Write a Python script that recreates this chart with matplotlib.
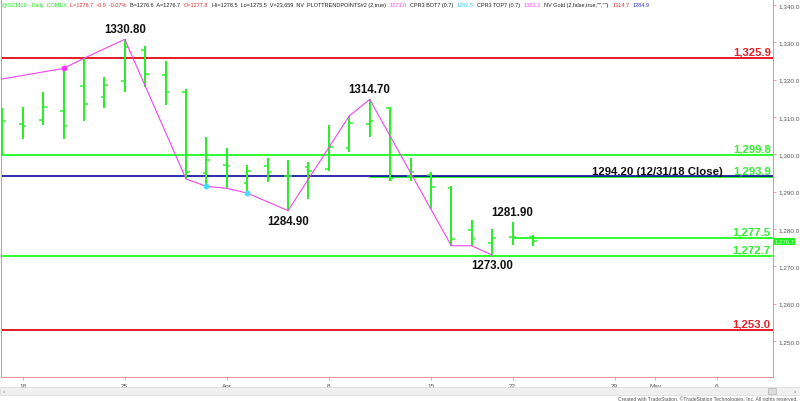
#!/usr/bin/env python3
"""Daily gold futures (GCM19) bar chart with trend points and key levels."""
import matplotlib
matplotlib.use("Agg")
import matplotlib.pyplot as plt
from matplotlib.patches import Rectangle

plt.rcParams["font.family"] = ["Liberation Sans", "DejaVu Sans"]

# trading-day index: Mar 18 = 0 ... (Good Friday Apr 19 skipped)
day_idx = list(range(-1, 26))
opens = [1301.9, 1308.1, 1309.3, 1311.7, 1318.4, 1315.3, 1319.6, 1327.9, 1321.3,
         1316.8, 1295.0, 1297.2, 1292.3, 1296.8, 1294.3, 1296.7, 1296.1, 1301.6,
         1308.1, 1312.3, 1294.3, 1294.5, 1290.9, 1279.7, 1276.2, 1277.8, 1277.8]
highs = [1312.3, 1312.6, 1316.8, 1323.0, 1325.7, 1320.6, 1330.8, 1329.1, 1325.1,
         1317.5, 1304.6, 1301.7, 1297.0, 1298.9, 1298.6, 1297.9, 1307.9, 1310.3,
         1314.7, 1312.6, 1299.0, 1295.2, 1291.6, 1282.4, 1280.0, 1281.9, 1278.5]
lows = [1299.6, 1304.1, 1307.9, 1304.1, 1309.0, 1312.3, 1316.6, 1318.0, 1313.2,
        1293.4, 1291.4, 1290.9, 1289.6, 1292.7, 1284.9, 1288.0, 1295.6, 1300.5,
        1304.6, 1292.8, 1292.9, 1285.4, 1275.5, 1275.5, 1273.0, 1275.7, 1275.5]
closes = [1308.8, 1307.5, 1312.6, 1307.7, 1313.5, 1318.6, 1328.8, 1321.5, 1316.8,
          1295.2, 1298.5, 1296.9, 1295.5, 1295.3, 1294.3, 1295.6, 1301.9, 1308.3,
          1308.8, 1293.6, 1295.2, 1291.3, 1277.3, 1277.3, 1277.6, 1277.9, 1276.7]

# zigzag trend points (day index, price)
zig_x = [-1.3, 2, 3, 5, 8, 9, 10, 11, 13, 16, 17, 21, 22, 23]
zig_y = [1319.9, 1323.0, 1325.7, 1330.8, 1293.4, 1291.4, 1290.9, 1289.6, 1284.9,
         1310.3, 1314.7, 1275.5, 1275.5, 1273.0]

# pivot labels (day index, price, text, above?)
pivot_x = [5, 17, 13, 23, 24]
pivot_y = [1330.8, 1314.7, 1284.9, 1273.0, 1281.9]
pivot_txt = ["1330.80", "1314.70", "1284.90", "1273.00", "1281.90"]
pivot_up = [True, True, False, False, True]

# horizontal levels: price, colour, start index (None = full width), label
level_y = [1325.9, 1299.8, 1293.9, 1277.5, 1272.7, 1253.0]
level_col = ["#e4202a", "#33ff33", "#33ff33", "#33ff33", "#33ff33", "#e4202a"]
level_start = [None, None, 17, 24, None, None]
level_lbl = ["1,325.9", "1,299.8", "1,293.9", "1,277.5", "1,272.7", "1,253.0"]
close_1231 = 1294.2

xtick_idx = [0, 5, 10, 15, 20, 24, 29, 31, 34]
xtick_lbl = ["18", "25", "Apr", "8", "15", "22", "29", "May", "6"]
ytick_vals = list(range(1250, 1341, 10))

header = [
    ("@GCM19 - Daily  COMEX", "#22dd22"),
    ("L=1276.7  -0.9  -0.07%", "#e03030"),
    ("B=1276.6  A=1276.7", "#222222"),
    ("O=1277.8", "#e03030"),
    ("Hi=1278.5  Lo=1275.5  V=23,659  NV  PLOTTRENDPOINTS#2 (2,true)", "#222222"),
    ("1273.0", "#ff44ff"),
    ("CPR3 BOT7 (0.7)", "#222222"),
    ("1289.5", "#33ccff"),
    ("CPR3 TOP7 (0.7)", "#222222"),
    ("1323.3", "#ff44ff"),
    ('NV Gold (2,false,true,"","")', "#222222"),
    ("1314.7", "#e03030"),
    ("1284.9", "#3333cc"),
]

W, H = 800, 402
fig = plt.figure(figsize=(W / 100, H / 100), dpi=100)
fig.patch.set_facecolor("white")
ax = fig.add_axes([1 / W, (H - 378) / H, 772 / W, 378 / H])
ax.set_xlim(-1.063, 36.76)
ax.set_ylim(1240.34, 1341.6)

green = "#2bef2b"
px = 0.72  # points per pixel

# levels
for y, c, s, lbl in zip(level_y, level_col, level_start, level_lbl):
    x0 = -2 if s is None else s
    ax.hlines(y, x0, 40, color=c, lw=2 * px, zorder=2)
    ax.annotate(lbl, (0.997, y), xycoords=ax.get_yaxis_transform(),
                xytext=(0, 1), textcoords="offset points", ha="right",
                va="bottom", color="#e4202a" if c != "#33ff33" else "#33ee33",
                fontsize=8.2, fontweight="bold", zorder=6)
ax.hlines(close_1231, -2, 40, color="#00009a", lw=1.6 * px, zorder=2)
ax.annotate("1294.20 (12/31/18 Close)", (34.3, close_1231), xytext=(0, 0),
            textcoords="offset points", ha="right", va="bottom",
            fontsize=8.2, fontweight="bold", color="#111111", zorder=6)

# zigzag
ax.plot(zig_x, zig_y, color="#ee44ee", lw=1.1 * px, zorder=4)
ax.plot([2], [1323.0], "o", ms=3.2, color="#ff33ff", zorder=5)
ax.plot([9, 11], [1291.4, 1289.6], "o", ms=3.2, color="#44ddff", zorder=5)

# OHLC bars
ax.vlines(day_idx, lows, highs, color=green, lw=2 * px, zorder=3)
ax.hlines(opens, [i - 0.18 for i in day_idx], day_idx, color=green, lw=1.5 * px, zorder=3)
ax.hlines(closes, day_idx, [i + 0.18 for i in day_idx], color=green, lw=1.5 * px, zorder=3)

# pivot labels
for x, y, t, up in zip(pivot_x, pivot_y, pivot_txt, pivot_up):
    ax.annotate(t, (x, y), xytext=(0, 3 if up else -3), textcoords="offset points",
                ha="center", va="bottom" if up else "top", fontsize=8.3,
                fontweight="bold", color="#111111", zorder=6)

# axes styling
ax.yaxis.tick_right()
ax.set_yticks(ytick_vals)
ax.set_yticklabels([f"{v:,.1f}" for v in ytick_vals])
ax.set_xticks(xtick_idx)
ax.set_xticklabels(xtick_lbl)
ax.tick_params(axis="both", colors="#e89090", labelcolor="#555555",
               labelsize=4.6, length=2.5, width=0.6, pad=1.5)
for side in ["right", "bottom"]:
    ax.spines[side].set_color("#e89090")
    ax.spines[side].set_linewidth(0.7)
for side in ["left", "top"]:
    ax.spines[side].set_color("#aaaaaa")
    ax.spines[side].set_linewidth(0.7)

# current price marker
ax.text(1.002, 1276.7, "1,276.7", transform=ax.get_yaxis_transform(),
        ha="left", va="center", fontsize=4.3, color="#ccffcc",
        bbox=dict(fc="#22ee22", ec="none", pad=0.6), zorder=7)

# header line
fig.canvas.draw()
renderer = fig.canvas.get_renderer()
xpos = 2
for txt, col in header:
    t = fig.text(xpos / W, 1 - 5.5 / H, txt, color=col, fontsize=4.0,
                 ha="left", va="center")
    bb = t.get_window_extent(renderer)
    xpos += bb.width + 3.5

# scroll bar and footer
fig.add_artist(Rectangle((0, (H - 396) / H), 1, 8 / H, transform=fig.transFigure,
                         fc="#f0f0f0", ec="#d8d8d8", lw=0.5))
fig.text(3 / W, 1 - 392 / H, "\u2039", fontsize=4.5, color="#555555", va="center")
fig.text(794 / W, 1 - 392 / H, "\u203a", fontsize=4.5, color="#555555", va="center")
fig.add_artist(Rectangle((768 / W, (H - 395) / H), 8 / W, 6 / H,
                         transform=fig.transFigure, fc="#dddddd", ec="#aaaaaa", lw=0.4))
fig.text(798 / W, 1 - 399 / H,
         "Created with TradeStation. \u00a9TradeStation Technologies, Inc. All rights reserved.",
         fontsize=3.6, color="#555555", ha="right", va="center")

fig.savefig("out.png", dpi=100)
